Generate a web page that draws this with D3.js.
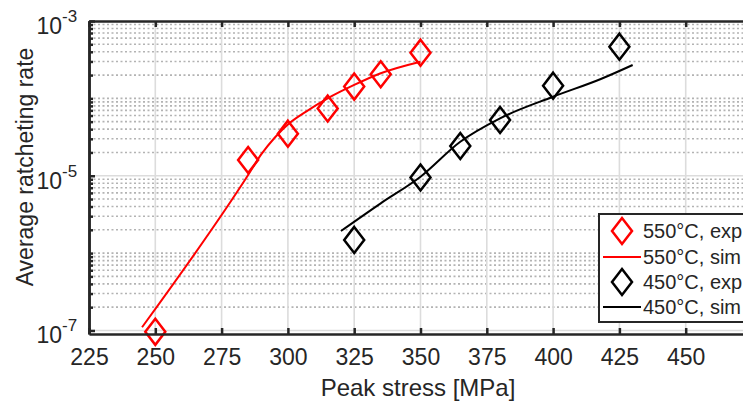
<!DOCTYPE html>
<html>
<head>
<meta charset="utf-8">
<script src="https://cdn.jsdelivr.net/npm/d3@7"></script>
<style>
  body { margin: 0; background: #fff; }
  text { font-family: "Liberation Sans", Arial, sans-serif; fill: #262626; }
</style>
</head>
<body>
<svg></svg>
<script>
var svgWidth = 743,
    svgHeight = 403;

// tick labels
var xTicks = [225, 250, 275, 300, 325, 350, 375, 400, 425, 450];
var yMajor = [1e-7, 1e-5, 1e-3];
var yLabelExp = ["-7", "-5", "-3"];

// 550°C
var expStress550 = [250, 285, 300, 315, 325, 335, 350];
var expRate550 = [9.6e-8, 1.6e-5, 3.5e-5, 7.4e-5, 1.42e-4, 2.05e-4, 3.9e-4];
var simStress550 = [245, 285, 290, 295, 300, 307, 315, 325, 335, 350];
var simRate550 = [1.1e-7, 1.02e-5, 1.9e-5, 3.1e-5, 4.6e-5, 6.8e-5, 1.0e-4, 1.49e-4, 2.11e-4, 2.98e-4];

// 450°C
var expStress450 = [325, 350, 365, 380, 400, 425];
var expRate450 = [1.48e-6, 9.5e-6, 2.42e-5, 5.25e-5, 1.46e-4, 4.66e-4];
var simStress450 = [320, 335, 350, 365, 380, 400, 418, 430];
var simRate450 = [1.93e-6, 4.4e-6, 9.7e-6, 2.75e-5, 5.52e-5, 1.05e-4, 1.78e-4, 2.7e-4];

var legendLabels = ["550°C, exp", "550°C, sim", "450°C, exp", "450°C, sim"];

var plotLeft = 89, plotRight = 752, plotTop = 21, plotBottom = 334;

var svg = d3.select("svg")
    .attr("width", svgWidth)
    .attr("height", svgHeight);

var xScale = d3.scaleLinear().domain([225, 475]).range([plotLeft, plotRight]);
var yScale = d3.scaleLog().domain([9e-8, 1e-3]).range([plotBottom, plotTop]);

// minor decade ticks
var yMinor = [];
for (var n = -8; n <= -4; n++) {
    for (var k = 2; k <= 9; k++) {
        var v = k * Math.pow(10, n);
        if (v > 9.01e-8 && v < 1e-3) yMinor.push(v);
    }
}
yMinor.push(1e-6, 1e-4);

var grid = svg.append("g");

// minor y grid (dotted)
grid.selectAll(".ymin")
    .data(yMinor)
    .enter()
    .append("line")
    .attr("x1", plotLeft).attr("x2", plotRight)
    .attr("y1", function (d) { return yScale(d); })
    .attr("y2", function (d) { return yScale(d); })
    .attr("stroke", "#b3b3b3")
    .attr("stroke-width", 1.6)
    .attr("stroke-dasharray", "2,2.5");

// major grid
grid.selectAll(".ymaj")
    .data([1e-7, 1e-5])
    .enter()
    .append("line")
    .attr("x1", plotLeft).attr("x2", plotRight)
    .attr("y1", function (d) { return yScale(d); })
    .attr("y2", function (d) { return yScale(d); })
    .attr("stroke", "#dcdcdc")
    .attr("stroke-width", 1.6);

grid.selectAll(".xmaj")
    .data(xTicks.slice(1))
    .enter()
    .append("line")
    .attr("x1", function (d) { return xScale(d); })
    .attr("x2", function (d) { return xScale(d); })
    .attr("y1", plotTop).attr("y2", plotBottom)
    .attr("stroke", "#dcdcdc")
    .attr("stroke-width", 1.6);

// simulation lines
var line = d3.line()
    .x(function (d) { return xScale(d[0]); })
    .y(function (d) { return yScale(d[1]); })
    .curve(d3.curveMonotoneX);

svg.append("path")
    .datum(d3.zip(simStress550, simRate550))
    .attr("d", line)
    .attr("fill", "none")
    .attr("stroke", "#ff0000")
    .attr("stroke-width", 2);

svg.append("path")
    .datum(d3.zip(simStress450, simRate450))
    .attr("d", line)
    .attr("fill", "none")
    .attr("stroke", "#000")
    .attr("stroke-width", 2);

// diamonds
var diamond = "M0,-13L10,0L0,13L-10,0Z";

svg.selectAll(".m550")
    .data(d3.zip(expStress550, expRate550))
    .enter()
    .append("path")
    .attr("d", diamond)
    .attr("transform", function (d) { return "translate(" + xScale(d[0]) + "," + yScale(d[1]) + ")"; })
    .attr("fill", "none")
    .attr("stroke", "#ff0000")
    .attr("stroke-width", 2.5);

svg.selectAll(".m450")
    .data(d3.zip(expStress450, expRate450))
    .enter()
    .append("path")
    .attr("d", diamond)
    .attr("transform", function (d) { return "translate(" + xScale(d[0]) + "," + yScale(d[1]) + ")"; })
    .attr("fill", "none")
    .attr("stroke", "#000")
    .attr("stroke-width", 2.5);

// axes
var axisColor = "#262626";

var xAxis = svg.append("g")
    .attr("transform", "translate(0," + plotBottom + ")")
    .call(d3.axisBottom(xScale).tickValues(xTicks).tickSize(-6).tickPadding(15).tickSizeOuter(0));
xAxis.selectAll("text").style("font-size", "23px").attr("fill", axisColor);

var xTop = svg.append("g")
    .attr("transform", "translate(0," + plotTop + ")")
    .call(d3.axisTop(xScale).tickValues(xTicks).tickSize(-6).tickSizeOuter(0).tickFormat(""));

var yAxis = svg.append("g")
    .attr("transform", "translate(" + plotLeft + ",0)")
    .call(d3.axisLeft(yScale).tickValues(yMajor).tickSize(-6).tickSizeOuter(0).tickFormat(""));

var yMinorAxis = svg.append("g")
    .attr("transform", "translate(" + plotLeft + ",0)")
    .call(d3.axisLeft(yScale).tickValues(yMinor).tickSize(-4).tickSizeOuter(0).tickFormat(""));

[xAxis, xTop, yAxis, yMinorAxis].forEach(function (g) {
    g.select(".domain").attr("stroke", axisColor).attr("stroke-width", 2.5);
    g.selectAll(".tick line").attr("stroke", axisColor).attr("stroke-width", 2.5);
});

// y tick labels with exponent
svg.selectAll(".ylab")
    .data(yMajor)
    .enter()
    .append("text")
    .attr("x", 62)
    .attr("y", function (d) { return yScale(d) + 13; })
    .attr("text-anchor", "end")
    .style("font-size", "23px")
    .text("10");

svg.selectAll(".yexp")
    .data(yMajor)
    .enter()
    .append("text")
    .attr("x", 62)
    .attr("y", function (d) { return yScale(d) + 1; })
    .style("font-size", "17px")
    .text(function (d, i) { return yLabelExp[i]; });

// axis titles
svg.append("text")
    .attr("x", 418)
    .attr("y", 396)
    .attr("text-anchor", "middle")
    .style("font-size", "24px")
    .text("Peak stress [MPa]");

svg.append("text")
    .attr("transform", "translate(33,167) rotate(-90)")
    .attr("text-anchor", "middle")
    .style("font-size", "23px")
    .text("Average ratcheting rate");

// legend
var legend = svg.append("g");
legend.append("rect")
    .attr("x", 599).attr("y", 214)
    .attr("width", 170).attr("height", 108)
    .attr("fill", "#fff")
    .attr("stroke", axisColor)
    .attr("stroke-width", 2);

var rowY = [231, 257, 282, 307];
var rowColor = ["#ff0000", "#ff0000", "#000", "#000"];

legendLabels.forEach(function (lab, i) {
    if (i % 2 === 0) {
        legend.append("path")
            .attr("d", diamond)
            .attr("transform", "translate(622," + rowY[i] + ")")
            .attr("fill", "none")
            .attr("stroke", rowColor[i])
            .attr("stroke-width", 2.5);
    } else {
        legend.append("line")
            .attr("x1", 603).attr("x2", 641)
            .attr("y1", rowY[i]).attr("y2", rowY[i])
            .attr("stroke", rowColor[i])
            .attr("stroke-width", 2);
    }
    legend.append("text")
        .attr("x", 643)
        .attr("y", rowY[i] + 7)
        .style("font-size", "20px")
        .attr("fill", "#000")
        .text(lab);
});
</script>
</body>
</html>
